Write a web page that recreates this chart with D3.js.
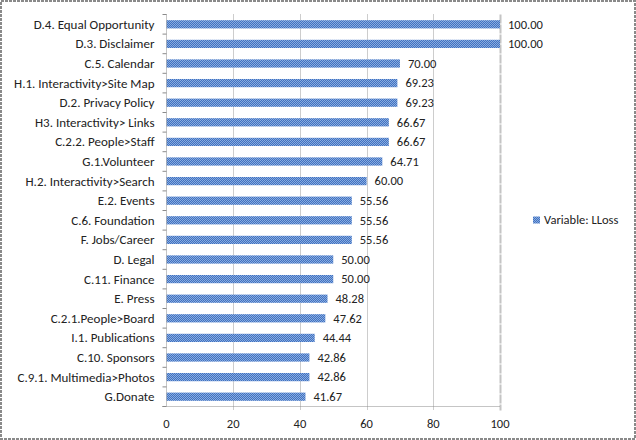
<!DOCTYPE html>
<html>
<head>
<meta charset="utf-8">
<script src="https://cdn.jsdelivr.net/npm/d3@7"></script>
<style>
  body { margin: 0; background: #fff; }
  text { font-family: Carlito, Lato, "Open Sans", sans-serif; fill: #222; }
</style>
</head>
<body>
<div class="core_div"></div>
<script>
// Chart data, top to bottom
var categories = ["D.4. Equal Opportunity", "D.3. Disclaimer", "C.5. Calendar",
  "H.1. Interactivity>Site Map", "D.2. Privacy Policy", "H3. Interactivity> Links",
  "C.2.2. People>Staff", "G.1.Volunteer", "H.2. Interactivity>Search", "E.2. Events",
  "C.6. Foundation", "F. Jobs/Career", "D. Legal", "C.11. Finance", "E. Press",
  "C.2.1.People>Board", "I.1. Publications", "C.10. Sponsors",
  "C.9.1. Multimedia>Photos", "G.Donate"];
var values = [100.00, 100.00, 70.00, 69.23, 69.23, 66.67, 66.67, 64.71, 60.00, 55.56,
  55.56, 55.56, 50.00, 50.00, 48.28, 47.62, 44.44, 42.86, 42.86, 41.67];
var xTicks = [0, 20, 40, 60, 80, 100];
var seriesName = "Variable: LLoss";

var W = 636, H = 440;
var margin = {top: 14.5, left: 166.5, right: 136, bottom: 33.5};

var svg = d3.select(".core_div").append("svg")
    .attr("width", W)
    .attr("height", H);

// Bar fill pattern (checkered blue)
var pat = svg.append("defs").append("pattern")
    .attr("id", "hatch")
    .attr("width", 2).attr("height", 2)
    .attr("patternUnits", "userSpaceOnUse");
pat.append("rect").attr("width", 2).attr("height", 2).attr("fill", "#3f71c3");
pat.append("rect").attr("width", 1).attr("height", 1).attr("fill", "#8aacdd");
pat.append("rect").attr("x", 1).attr("y", 1).attr("width", 1).attr("height", 1).attr("fill", "#8aacdd");

// Outer frame
svg.append("rect")
    .attr("x", 1).attr("y", 1)
    .attr("width", W - 2).attr("height", H - 2)
    .attr("fill", "none")
    .attr("stroke", "#8a8a8a")
    .attr("stroke-width", 2)
    .attr("stroke-dasharray", "3,1");

var x = d3.scaleLinear().domain([0, 100]).range([margin.left, 500]);
var y = d3.scaleBand().domain(categories)
    .range([margin.top, H - margin.bottom])
    .paddingInner(0.58).paddingOuter(0.29);

var plotBottom = H - margin.bottom;

// Gridlines
svg.append("g").selectAll("line")
    .data(xTicks.filter(function(d) { return d > 0; }))
  .enter().append("line")
    .attr("x1", function(d) { return Math.round(x(d)) + 0.5; })
    .attr("x2", function(d) { return Math.round(x(d)) + 0.5; })
    .attr("y1", margin.top)
    .attr("y2", plotBottom + 4)
    .attr("stroke", function(d) { return d === 100 ? "#c4c4c4" : "#9a9a9a"; })
    .attr("stroke-width", function(d) { return d === 100 ? 2 : 1; })
    .attr("stroke-dasharray", function(d) { return d === 100 ? "9,1" : "1,1"; });

// Bars
svg.append("g").selectAll("rect")
    .data(values)
  .enter().append("rect")
    .attr("x", x(0))
    .attr("y", function(d, i) { return y(categories[i]); })
    .attr("width", function(d) { return x(d) - x(0); })
    .attr("height", y.bandwidth())
    .attr("fill", "url(#hatch)");

// Value labels
svg.append("g").selectAll("text")
    .data(values)
  .enter().append("text")
    .attr("x", function(d) { return x(d) + 8; })
    .attr("y", function(d, i) { return y(categories[i]) + y.bandwidth() / 2; })
    .attr("dy", ".35em")
    .style("font-size", "12.5px")
    .text(function(d) { return d.toFixed(2); });

// Y axis (category labels)
var yAxis = svg.append("g")
    .attr("transform", "translate(" + x(0) + ",0)");
yAxis.append("line")
    .attr("x1", 0).attr("x2", 0)
    .attr("y1", margin.top).attr("y2", plotBottom)
    .attr("stroke", "#8a8a8a").attr("stroke-dasharray", "1,1");
var bounds = categories.map(function(c) { return y(c) - y.step() * y.paddingInner() / 2; });
bounds.push(plotBottom);
yAxis.selectAll("line.tk")
    .data(bounds)
  .enter().append("line")
    .attr("class", "tk")
    .attr("x1", -4).attr("x2", 0)
    .attr("y1", function(d) { return d; }).attr("y2", function(d) { return d; })
    .attr("stroke", "#8a8a8a");
yAxis.selectAll("text")
    .data(categories)
  .enter().append("text")
    .attr("x", -12)
    .attr("y", function(d) { return y(d) + y.bandwidth() / 2; })
    .attr("dy", ".35em")
    .attr("text-anchor", "end")
    .style("font-size", "13px")
    .text(function(d) { return d; });

// X axis
var xAxis = svg.append("g");
xAxis.append("line")
    .attr("x1", x(0) - 4).attr("x2", x(100))
    .attr("y1", plotBottom).attr("y2", plotBottom)
    .attr("stroke", "#8a8a8a").attr("stroke-dasharray", "1,1");
xAxis.selectAll("text")
    .data(xTicks)
  .enter().append("text")
    .attr("x", function(d) { return x(d); })
    .attr("y", plotBottom + 17)
    .attr("dy", ".35em")
    .attr("text-anchor", "middle")
    .style("font-size", "12.5px")
    .text(function(d) { return d; });

// Legend
var legend = svg.append("g").attr("transform", "translate(533,220)");
legend.append("rect")
    .attr("x", 0).attr("y", -3.5)
    .attr("width", 7).attr("height", 7)
    .attr("fill", "url(#hatch)");
legend.append("text")
    .attr("x", 11).attr("y", 0)
    .attr("dy", ".35em")
    .style("font-size", "12.5px")
    .text(seriesName);
</script>
</body>
</html>
